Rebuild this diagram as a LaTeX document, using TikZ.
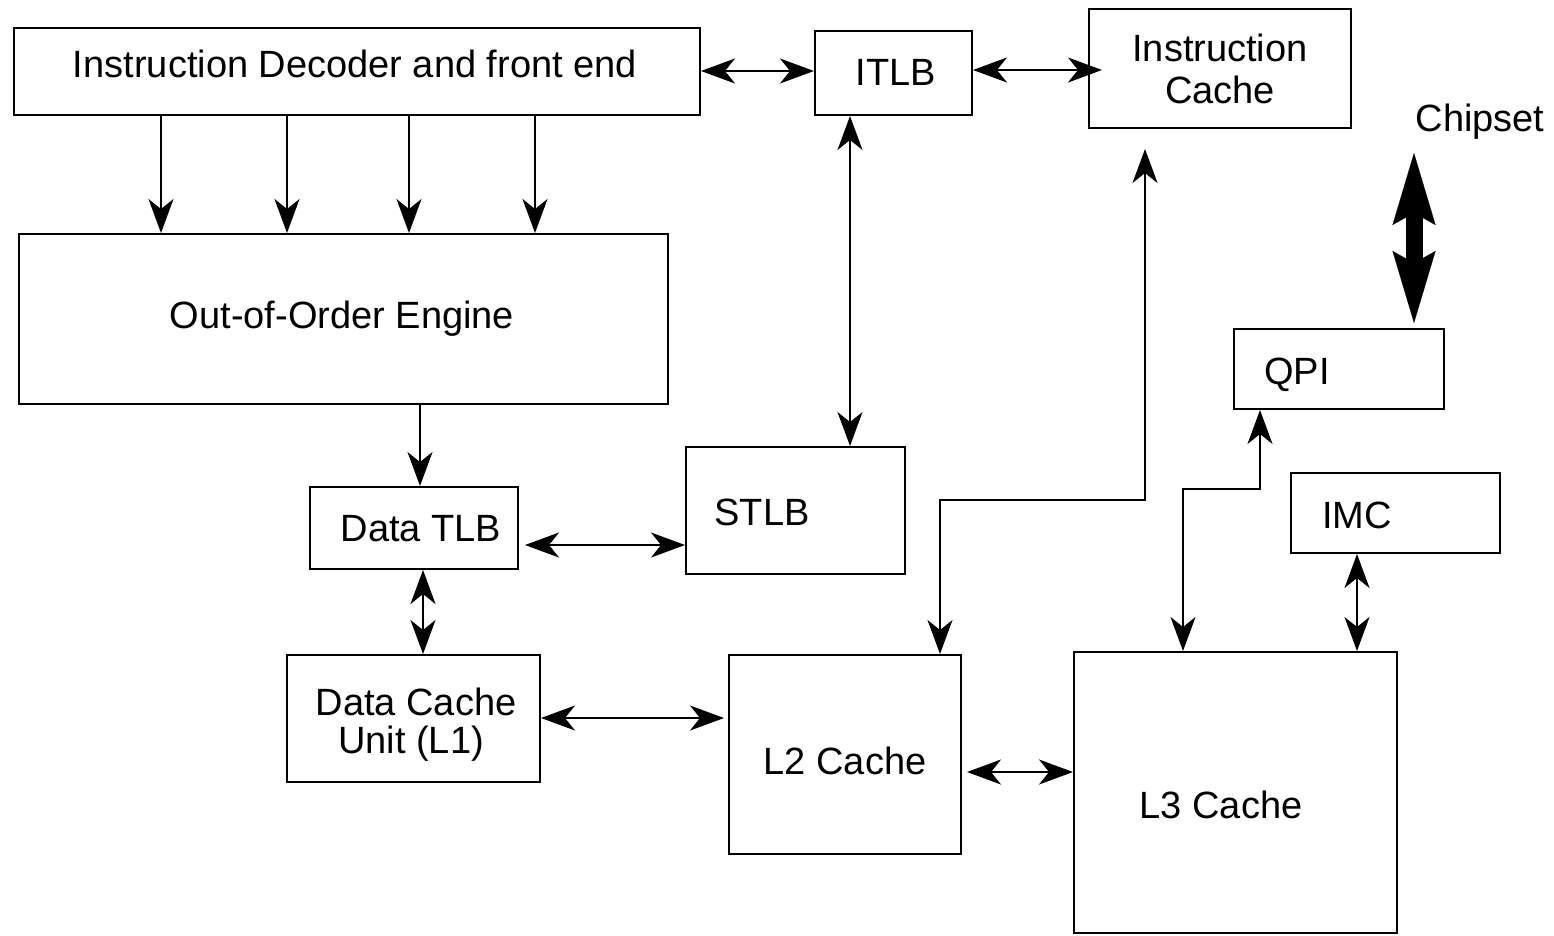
\documentclass[tikz,border=0pt]{standalone}
\usepackage{fontspec}
\setmainfont{Liberation Sans}
\usetikzlibrary{arrows.meta}
\begin{document}
\begin{tikzpicture}[x=1pt,y=-1pt,
  box/.style={draw, line width=2pt, inner sep=0pt},
  lbl/.style={anchor=base, inner sep=0pt, font=\fontsize{38}{43}\selectfont},
  arr/.style={line width=2pt, -{Stealth[length=34pt,width=25pt,inset=10pt]}},
  biarr/.style={line width=2pt, {Stealth[length=34pt,width=25pt,inset=10pt]}-{Stealth[length=34pt,width=25pt,inset=10pt]}}]
\useasboundingbox (0,0) rectangle (1554,935);
\fill[white] (0,0) rectangle (1554,935);

% boxes
\node[box, minimum width=686pt, minimum height=87pt] (dec) at (357,71.5) {};
\node[box, minimum width=157pt, minimum height=84pt] (itlb) at (893.5,73) {};
\node[box, minimum width=262pt, minimum height=119pt] (icache) at (1220,68.5) {};
\node[box, minimum width=649pt, minimum height=170pt] (ooo) at (343.5,319) {};
\node[box, minimum width=208pt, minimum height=82pt] (dtlb) at (414,528) {};
\node[box, minimum width=219pt, minimum height=127pt] (stlb) at (795.5,510.5) {};
\node[box, minimum width=253pt, minimum height=127pt] (dcu) at (413.5,718.5) {};
\node[box, minimum width=232pt, minimum height=199pt] (l2) at (845,754.5) {};
\node[box, minimum width=323pt, minimum height=281pt] (l3) at (1235.5,792.5) {};
\node[box, minimum width=210pt, minimum height=80pt] (qpi) at (1339,369) {};
\node[box, minimum width=209pt, minimum height=80pt] (imc) at (1395.5,513) {};

% labels
\node[lbl] (decT) at (355,77) {Instruction Decoder and front end};
\node[lbl] (itlbT) at (896,85) {ITLB};
\node[lbl] (icT1) at (1220,61) {Instruction};
\node[lbl] (icT2) at (1220,103) {Cache};
\node[lbl] (chipT) at (1480,131) {Chipset};
\node[lbl] (oooT) at (342,328) {Out-of-Order Engine};
\node[lbl] (dtlbT) at (421,541) {Data TLB};
\node[lbl] (stlbT) at (762,525) {STLB};
\node[lbl] (qpiT) at (1297,384) {QPI};
\node[lbl] (imcT) at (1357,528) {IMC};
\node[lbl] (dcuT1) at (416,715) {Data Cache};
\node[lbl] (dcuT2) at (411,753) {Unit (L1)};
\node[lbl] (l2T) at (845,774) {L2 Cache};
\node[lbl] (l3T) at (1221,818) {L3 Cache};

% decoder -> out-of-order engine
\foreach \x in {161,287,409,535}
  \draw[arr] (\x,0 |- dec.south) -- (\x,0 |- ooo.north);
% ooo -> data TLB
\draw[arr] (420,0 |- ooo.south) -- (420,0 |- dtlb.north);

% horizontal bidirectional links
\draw[biarr] (dec.east |- 0,71) -- (itlb.west |- 0,71);
\draw[biarr] (itlb.east |- 0,70) -- ([xshift=14pt]icache.west |- 0,70);
\draw[biarr] ([xshift=6pt]dtlb.east |- 0,545) -- (stlb.west |- 0,545);
\draw[biarr] (dcu.east |- 0,718) -- ([xshift=-4pt]l2.west |- 0,718);
\draw[biarr] ([xshift=5pt]l2.east |- 0,772) -- (l3.west |- 0,772);

% vertical bidirectional links
\draw[biarr] (850,0 |- itlb.south) -- (850,0 |- stlb.north);
\draw[biarr] (423,0 |- dtlb.south) -- (423,0 |- dcu.north);
\draw[biarr] (1357,0 |- imc.south) -- (1357,0 |- l3.north);

% L2 <-> instruction cache
\draw[biarr] (940,0 |- l2.north) |- (1145,500) -- ([yshift=-20pt]1145,0 |- icache.south);
% L3 <-> QPI
\draw[biarr] (1183,0 |- l3.north) |- (1260,489) -- (1260,0 |- qpi.south);

% chipset thick arrow
\coordinate (chipTop) at (1414,153);
\coordinate (chipBot) at (1414,323);
\draw[line width=17pt,
  {Stealth[length=72pt,width=43pt,inset=12pt,line width=0.1pt]}-{Stealth[length=72pt,width=43pt,inset=12pt,line width=0.1pt]}]
  (chipTop) -- (chipBot);
\end{tikzpicture}
\end{document}
